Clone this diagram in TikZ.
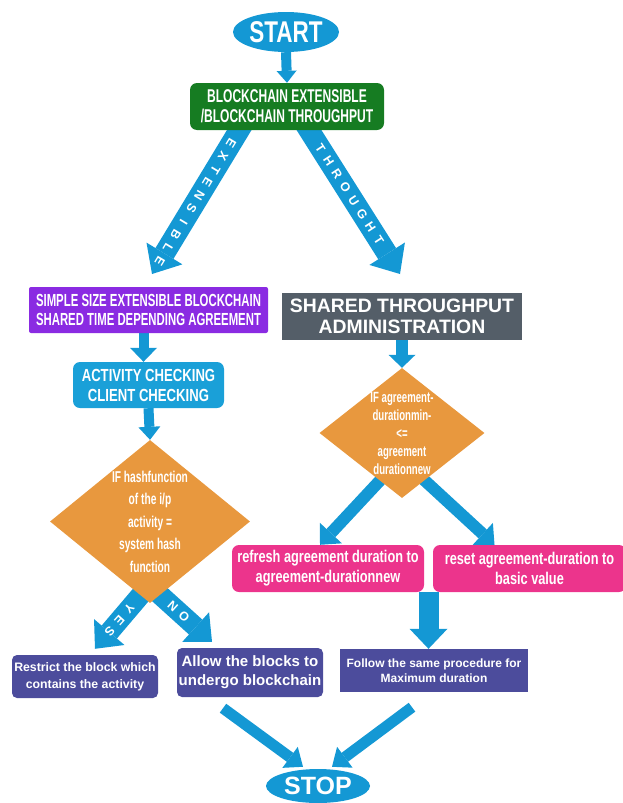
\documentclass[tikz,border=0pt]{standalone}
\usepackage{fontspec}
\setmainfont{Liberation Sans}
\newfontfamily\narrowfont[FakeStretch=0.75]{Liberation Sans}
\newfontfamily\slimfont[FakeStretch=0.65]{Liberation Sans}
\usetikzlibrary{shapes.geometric,arrows.meta,calc,backgrounds}

\definecolor{flowblue}{RGB}{20,152,212}
\definecolor{boxgreen}{RGB}{22,124,34}
\definecolor{boxpurple}{RGB}{138,43,226}
\definecolor{boxgray}{RGB}{84,94,104}
\definecolor{boxcyan}{RGB}{26,160,216}
\definecolor{boxorange}{RGB}{232,152,62}
\definecolor{boxpink}{RGB}{236,52,140}
\definecolor{boxslate}{RGB}{76,76,156}

\tikzset{
    box/.style={rectangle, fill=#1, text=white, align=center, inner sep=1pt},
    terminal/.style={ellipse, fill=flowblue, text=white, inner sep=-4pt},
    decision/.style={diamond, fill=boxorange, text=white, align=center, inner sep=-25pt},
    nfont/.style 2 args={font=\narrowfont\bfseries\fontsize{#1}{#2}\selectfont},
    sfont/.style 2 args={font=\slimfont\bfseries\fontsize{#1}{#2}\selectfont},
    wfont/.style 2 args={font=\bfseries\fontsize{#1}{#2}\selectfont},
    fat/.style n args={3}{draw=flowblue, line width=#1, -{Triangle[width=#2, length=#3, line width=0pt]}},
    arrowtext/.style={text=white, font=\bfseries\fontsize{12.5}{12.5}\selectfont, inner sep=0pt},
}

\begin{document}
\begin{tikzpicture}[x=1pt,y=-1pt]
    \useasboundingbox (0,0) rectangle (622,803);
    %% start and choice
    \node[terminal, minimum width=106, minimum height=40, nfont={30}{30}] (start) at (286,32) {START};
    \node[box=boxgreen, rounded corners=7pt, minimum width=194, minimum height=47, sfont={18.5}{20}] (choice) at (287,106.5) {BLOCKCHAIN EXTENSIBLE\\/BLOCKCHAIN THROUGHPUT};
    %% extensible branch
    \node[box=boxpurple, rounded corners=2pt, minimum width=239, minimum height=46, sfont={17.5}{19}] (simple) at (148.5,310) {SIMPLE SIZE EXTENSIBLE BLOCKCHAIN\\SHARED TIME DEPENDING AGREEMENT};
    \node[box=boxcyan, rounded corners=7pt, minimum width=151, minimum height=46, nfont={17.5}{20}] (check) at (148.5,385) {ACTIVITY CHECKING\\CLIENT CHECKING};
    \node[decision, minimum width=200, minimum height=163, sfont={15.7}{22.5}] (hashq) at (150,521.5) {IF hashfunction\\of the i/p\\activity =\\system hash\\function};
    \node[box=boxslate, rounded corners=5pt, minimum width=146, minimum height=43, wfont={12.3}{17}] (restrict) at (85,676.5) {Restrict the block which\\contains the activity};
    \node[box=boxslate, rounded corners=5pt, minimum width=146, minimum height=49, wfont={15}{19}] (allow) at (250,672.5) {Allow the blocks to\\undergo blockchain};
    %% throughput branch
    \node[box=boxgray, minimum width=240, minimum height=47, wfont={19.4}{21}] (shared) at (402,316.5) {SHARED THROUGHPUT\\ADMINISTRATION};
    \node[decision, minimum width=165, minimum height=130, sfont={14.8}{18}] (durq) at (402,433) {IF agreement-\\durationmin-\\<=\\agreement\\durationnew};
    \node[box=boxpink, rounded corners=7pt, minimum width=192, minimum height=47, nfont={17}{20}] (refresh) at (328,568.5) {refresh agreement duration to\\agreement-durationnew};
    \node[box=boxpink, rounded corners=7pt, minimum width=193, minimum height=47, nfont={17}{20}] (reset) at (529.5,568.5) {reset agreement-duration to\\basic value};
    \node[box=boxslate, minimum width=188, minimum height=43, wfont={12}{15}] (follow) at (434,670.5) {Follow the same procedure for\\Maximum duration};
    %% stop
    \node[terminal, minimum width=104, minimum height=34, wfont={25}{25}] (stop) at (318,786) {STOP};

    %% arrow ends
    \coordinate (extA) at ($(choice.south)+(-43,-8)$);
    \coordinate (extB) at (152,274);
    \coordinate (thrA) at ($(choice.south)+(17,-8)$);
    \coordinate (thrB) at (400,274);
    \coordinate (yesA) at ($(hashq.south)+(-6,-12)$);
    \coordinate (yesB) at ([shift={(10pt,6pt)}]restrict.north);
    \coordinate (noA) at ($(hashq.south)+(6,-12)$);
    \coordinate (noB) at ([shift={(-38pt,6pt)}]allow.north);
    \coordinate (pinkmid) at ($(refresh.south east)!0.5!(reset.south west)$);

    \begin{scope}[on background layer]
        \draw[fat={10}{20}{12}] (start.south) -- (choice.north);
        \draw[fat={21}{42}{24}] (extA) -- (extB);
        \draw[fat={21}{42}{24}] (thrA) -- (thrB);
        \draw[fat={10}{27}{14}] ([xshift=-5pt]simple.south) -- ([xshift=-5pt]check.north);
        \draw[fat={10}{22}{13}] (check.south) -- (hashq.north);
        \draw[fat={12}{27}{13}] (shared.south) -- (durq.north);
        \draw[fat={12}{30}{16}] ($(durq.south)+(-18,-22)$) -- ([xshift=-8pt]refresh.north);
        \draw[fat={12}{30}{16}] ($(durq.south)+(18,-22)$) -- ([xshift=-35pt]reset.north);
        \draw[fat={20}{38}{20}] (pinkmid) -- (pinkmid |- follow.north);
        \draw[fat={20}{40}{22}] (yesA) -- (yesB);
        \draw[fat={20}{40}{22}] (noA) -- (noB);
        \draw[fat={11}{26}{16}] ([shift={(-27pt,-11pt)}]allow.south) -- ([shift={(-15pt,2pt)}]stop.north);
        \draw[fat={11}{26}{16}] ([shift={(-22pt,-15pt)}]follow.south) -- ([shift={(14pt,2pt)}]stop.north);
    \end{scope}

    %% arrow letters
    \foreach \c [count=\i] in {E,X,T,E,N,S,I,B,L,E}
        \node[arrowtext, rotate=-121] (ext\i) at ($(extA)!{0.14+0.086*(\i-1)}!(extB)$) {\c};
    \foreach \c [count=\i] in {T,H,R,O,U,G,H,T}
        \node[arrowtext, rotate=-57] (thr\i) at ($(thrA)!{0.17+0.087*(\i-1)}!(thrB)$) {\c};
    \foreach \c [count=\i] in {Y,E,S}
        \node[arrowtext, rotate=-132] (yes\i) at ($(yesA)!{0.3+0.2*(\i-1)}!(yesB)$) {\c};
    \foreach \c [count=\i] in {N,O}
        \node[arrowtext, rotate=-42] (no\i) at ($(noA)!{0.3+0.2*(\i-1)}!(noB)$) {\c};
\end{tikzpicture}
\end{document}
